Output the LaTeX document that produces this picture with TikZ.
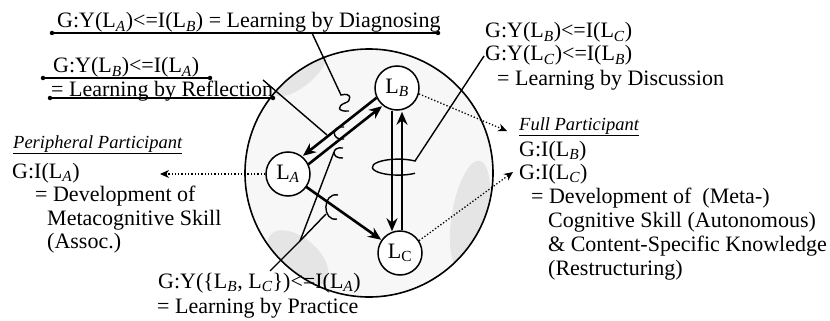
\documentclass[tikz,border=0pt]{standalone}
\usepackage{fontspec}
\setmainfont{Liberation Serif}
\usetikzlibrary{arrows.meta,calc}
\newcommand\Lsub[1]{L\textsubscript{\textit{#1}}}
\begin{document}
\begin{tikzpicture}[x=1pt,y=-1pt,
  txt/.style={anchor=base west,inner sep=0pt,font=\fontsize{22}{24}\selectfont},
  hdr/.style={anchor=base west,inner sep=0pt,font=\fontsize{18.5}{20}\selectfont\itshape},
  learner/.style={circle,draw,line width=1.5pt,fill=white,minimum size=44pt,inner sep=0pt,font=\fontsize{22}{24}\selectfont},
  bigarr/.style={line width=2.6pt,-{Stealth[length=13pt,width=11pt]}},
  dotarr/.style={dotted,line width=1.3pt,-{Stealth[length=9pt,width=8pt]}},
  ptr/.style={line width=1.4pt},
  enddot/.style={circle,fill,inner sep=0pt,minimum size=4.5pt},
  patch/.style={fill=black!10}]
\useasboundingbox (0,0) rectangle (830,321);

% community circle with speckled shading
\fill[black!3] (369,173) circle (124pt);
\begin{scope}
  \clip (369,173) circle (124pt);
  \fill[patch,rotate around={40:(300,72)}] (300,72) ellipse [x radius=34pt,y radius=14pt];
  \fill[patch,rotate around={-40:(298,258)}] (298,258) ellipse [x radius=36pt,y radius=20pt];
  \fill[patch,rotate around={-10:(470,215)}] (470,215) ellipse [x radius=18pt,y radius=55pt];
\end{scope}
\node[circle,draw,line width=1.6pt,minimum size=248pt,inner sep=0pt] (big) at (369,173) {};

% learners
\node[learner] (LA) at (288,174) {\Lsub{A}};
\node[learner] (LB) at (397,88) {\Lsub{B}};
\node[learner] (LC) at (400,253) {L\textsubscript{C}};

% interaction arrows
\coordinate (Au) at ($(LA)!5pt!90:(LB)$);
\coordinate (Bu) at ($(LB)!5pt!-90:(LA)$);
\coordinate (Ad) at ($(LA)!5pt!-90:(LB)$);
\coordinate (Bd) at ($(LB)!5pt!90:(LA)$);
\draw[bigarr] ($(Bu)!22pt!(Au)$) -- ($(Au)!23pt!(Bu)$);
\draw[bigarr] ($(Ad)!22pt!(Bd)$) -- ($(Bd)!23pt!(Ad)$);
\draw[bigarr] ($(LA)!22pt!(LC)$) -- ($(LC)!23pt!(LA)$);
\draw[bigarr] ($(LB.south)+(-5,0)$) -- ($(LC.north)+(-8,1)$);
\draw[bigarr] ($(LC.north)+(2,0)$) -- ($(LB.south)+(5,1)$);

% dotted arrows to outcomes
\coordinate (pa) at (160,174);
\coordinate (pb) at (507,131);
\coordinate (pc) at (513,172);
\draw[dotarr] (LA.west) -- (pa);
\draw[dotarr] (LB.-15) -- (pb);
\draw[dotarr] (LC.33) -- (pc);

% labels top-left with underlines
\node[txt] (t1) at (57,28) {G:Y(\Lsub{A})<=I(\Lsub{B}) = Learning by Diagnosing};
\node[enddot] (d1a) at (52,33) {};
\node[enddot] (d1b) at (438,33) {};
\draw[ptr] (d1a) -- (d1b);

\node[txt] (t2) at (53,73) {G:Y(\Lsub{B})<=I(\Lsub{A})};
\node[enddot] (d2a) at (43,78) {};
\node[enddot] (d2b) at (210,78) {};
\draw[ptr] (d2a) -- (d2b);

\node[txt] (t3) at (51,96) {= Learning by Reflection};
\node[enddot] (d3a) at (50,98) {};
\node[enddot] (d3b) at (273,98) {};
\draw[ptr] (d3a) -- (d3b);

% pointers and curls
\coordinate (p1s) at (312,33);
\coordinate (p1e) at (341,95);
\draw[ptr] (p1s) -- (p1e) .. controls (352,92) and (352,101) .. (345,103)
  .. controls (337,106) and (337,112) .. (349,111);

\coordinate (p2s) at (263,80);
\coordinate (p2e) at (327,135);
\draw[ptr] (p2s) -- (p2e);
\draw[ptr] (344,127) .. controls (331,125) and (331,141) .. (344,139);

\coordinate (p3s) at (270,271);
\coordinate (p3j) at (300,241);
\coordinate (p3a) at (326,214);
\coordinate (p3b) at (334,152);
\draw[ptr] (p3s) -- (p3j) -- (p3a);
\draw[ptr] (p3j) -- (p3b);
\draw[ptr] (343,148) .. controls (331,146) and (331,159) .. (343,158);
\draw[ptr] (338,195) .. controls (322,192) and (322,222) .. (337,219);

\coordinate (p4s) at (484,56);
\coordinate (p4e) at (415,161);
\draw[ptr] (p4s) -- (p4e) arc[start angle=50,end angle=310,x radius=26pt,y radius=8pt];

% discussion label
\node[txt] (t4) at (485,38) {G:Y(\Lsub{B})<=I(\Lsub{C})};
\node[txt] (t5) at (485,61) {G:Y(\Lsub{C})<=I(\Lsub{B})};
\node[txt] (t6) at (497,85) {= Learning by Discussion};

% peripheral participant
\node[hdr] (h1) at (13,148) {\underline{Peripheral Participant}};
\node[txt] (l1) at (12,178) {G:I(\Lsub{A})};
\node[txt] (l2) at (35,201) {= Development of};
\node[txt] (l3) at (47,225) {Metacognitive Skill};
\node[txt] (l4) at (47,248) {(Assoc.)};

% full participant
\node[hdr] (h2) at (519,130) {\underline{Full Participant}};
\node[txt] (r1) at (519,156) {G:I(\Lsub{B})};
\node[txt] (r2) at (519,179) {G:I(\Lsub{C})};
\node[txt] (r3) at (531,203) {= Development of \ (Meta-)};
\node[txt] (r4) at (548,227) {Cognitive Skill (Autonomous)};
\node[txt] (r5) at (548,251) {\& Content-Specific Knowledge};
\node[txt] (r6) at (548,275) {(Restructuring)};

% practice label
\node[txt] (b1) at (158,288) {G:Y(\{\Lsub{B}, \Lsub{C}\})<=I(\Lsub{A})};
\node[txt] (b2) at (157,313) {= Learning by Practice};
\end{tikzpicture}
\end{document}
